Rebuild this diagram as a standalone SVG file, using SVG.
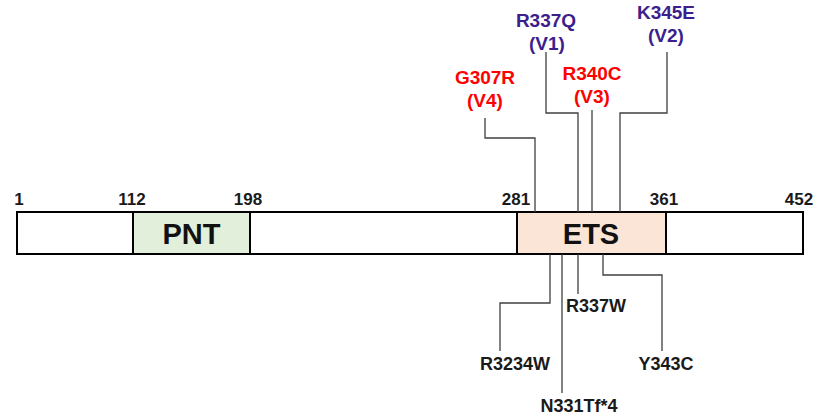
<svg xmlns="http://www.w3.org/2000/svg" width="817" height="416" viewBox="0 0 817 416">
<style>
.bar{fill:#fff;stroke:#000;stroke-width:2}
.num{font-family:"Liberation Sans",Arial,sans-serif;font-weight:bold;font-size:17px;fill:#1a1a1a;text-anchor:middle}
.dom{font-family:"Liberation Sans",Arial,sans-serif;font-weight:bold;font-size:29px;fill:#111;text-anchor:middle}
.lbl{font-family:"Liberation Sans",Arial,sans-serif;font-weight:bold;font-size:18px;fill:#1a1a1a;text-anchor:middle}
.top{font-family:"Liberation Sans",Arial,sans-serif;font-weight:bold;font-size:19px;text-anchor:middle}
.red{fill:#ff0000}
.blue{fill:#3c1e8c}
.con{fill:none;stroke:#404040;stroke-width:1.3}
</style>
<rect width="817" height="416" fill="#fff"/>
<g id="protein">
<rect class="bar" x="17" y="212" width="786" height="42"/>
</g>
<g id="pnt">
<rect x="133" y="212" width="117" height="42" fill="#e2efda" stroke="#000" stroke-width="2"/>
<text class="dom" x="191.5" y="244">PNT</text>
</g>
<g id="ets">
<rect x="517" y="212" width="149" height="42" fill="#fbe5d6" stroke="#000" stroke-width="2"/>
<text class="dom" x="591" y="244">ETS</text>
</g>
<g id="positions">
<text class="num" x="19" y="205">1</text>
<text class="num" x="132" y="205">112</text>
<text class="num" x="248" y="205">198</text>
<text class="num" x="516" y="205">281</text>
<text class="num" x="664" y="205">361</text>
<text class="num" x="799" y="205">452</text>
</g>
<g id="connectors">
<polyline class="con" points="485,118 485,138 535,138 535,212"/>
<polyline class="con" points="546,52 546,113 578,113 578,212"/>
<polyline class="con" points="592,110 592,212"/>
<polyline class="con" points="667,52 667,113 620,113 620,212"/>
<polyline class="con" points="550,254 550,303 500,303 500,351"/>
<polyline class="con" points="562,254 562,393"/>
<polyline class="con" points="578,254 578,294"/>
<polyline class="con" points="603,254 603,275 662,275 662,351"/>
</g>
<g id="g307r">
<text class="top red" x="485" y="84">G307R</text>
<text class="top red" x="485" y="107">(V4)</text>
</g>
<g id="r337q">
<text class="top blue" x="546" y="27">R337Q</text>
<text class="top blue" x="547" y="50">(V1)</text>
</g>
<g id="r340c">
<text class="top red" x="592" y="80">R340C</text>
<text class="top red" x="592" y="103">(V3)</text>
</g>
<g id="k345e">
<text class="top blue" x="666" y="19">K345E</text>
<text class="top blue" x="666" y="42">(V2)</text>
</g>
<g id="r3234w"><text class="lbl" x="515" y="370">R3234W</text></g>
<g id="n331tf4"><text class="lbl" x="579" y="412">N331Tf*4</text></g>
<g id="r337w"><text class="lbl" x="596" y="312">R337W</text></g>
<g id="y343c"><text class="lbl" x="666" y="370">Y343C</text></g>
</svg>
